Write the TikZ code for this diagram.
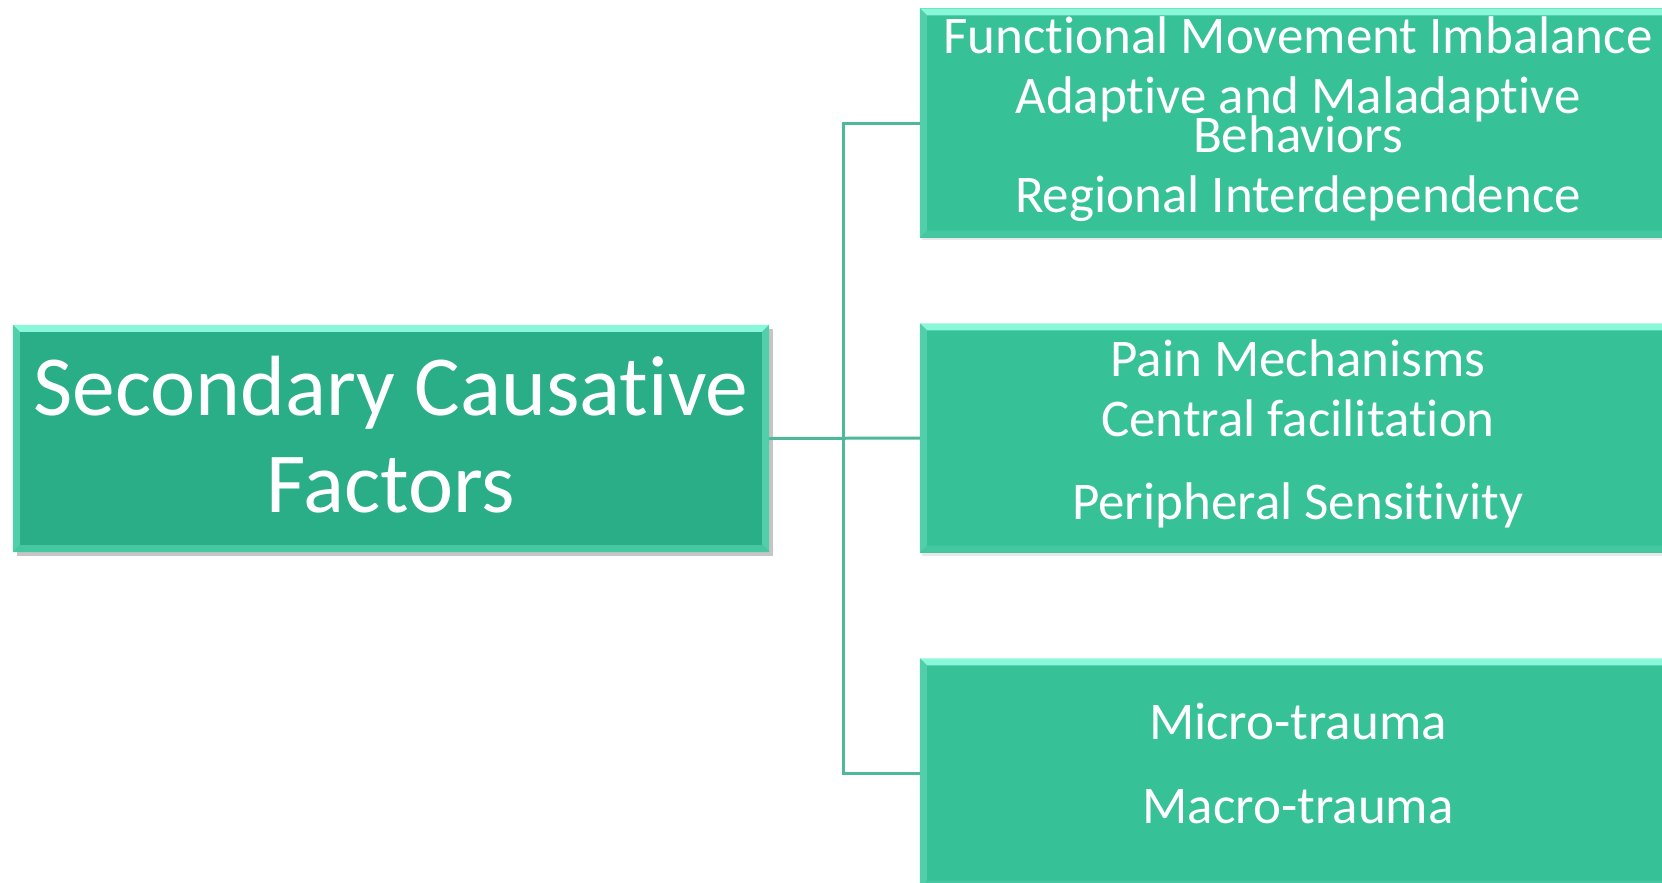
\documentclass[tikz,border=0pt]{standalone}
\usepackage{fontspec}
\setmainfont{Carlito}[Ligatures=NoCommon]
\definecolor{mainfill}{HTML}{2AAE88}
\definecolor{subfill}{HTML}{37C196}
\definecolor{bevtop}{HTML}{8AF7DA}
\definecolor{bevside}{HTML}{52CFAA}
\definecolor{bevbot}{HTML}{45C8A2}
\definecolor{connc}{HTML}{4DB89A}
\tikzset{
  mainbox/.style={fill=mainfill, minimum width=756pt, minimum height=227pt, inner sep=0pt, draw=none},
  subbox/.style={fill=subfill, minimum width=756pt, minimum height=229pt, inner sep=0pt, draw=none},
  conn/.style={draw=connc, line width=3pt},
  bigtext/.style={text=white, anchor=base, font=\fontsize{85.5}{98}\selectfont, inner sep=0pt},
  smalltext/.style={text=white, anchor=base, font=\fontsize{53}{62}\selectfont, inner sep=0pt},
}
\newcommand{\bevel}[1]{%
  \fill[bevtop] (#1.north west) -- (#1.north east) -- ([xshift=-7pt,yshift=-7pt]#1.north east) -- ([xshift=7pt,yshift=-7pt]#1.north west) -- cycle;
  \fill[bevside] (#1.north west) -- ([xshift=7pt,yshift=-7pt]#1.north west) -- ([xshift=7pt,yshift=7pt]#1.south west) -- (#1.south west) -- cycle;
  \fill[bevside] (#1.north east) -- ([xshift=-7pt,yshift=-7pt]#1.north east) -- ([xshift=-7pt,yshift=7pt]#1.south east) -- (#1.south east) -- cycle;
  \fill[bevbot] (#1.south west) -- ([xshift=7pt,yshift=7pt]#1.south west) -- ([xshift=-7pt,yshift=7pt]#1.south east) -- (#1.south east) -- cycle;
}
\begin{document}
\begin{tikzpicture}[x=1pt,y=-1pt]
\useasboundingbox (0,0) rectangle (1662,883);
% shadows
\fill[black!45, opacity=0.5] (17,329) rectangle (773,556);
\fill[black!30, opacity=0.3] (922,11) rectangle (1680,240);
\fill[black!30, opacity=0.3] (922,326) rectangle (1680,556);
% boxes
\node[mainbox] (main) at (391,438.5) {};
\node[subbox] (b1) at (1298,123) {};
\node[subbox] (b2) at (1298,438) {};
\node[subbox] (b3) at (1298,773) {};
\bevel{main}
\bevel{b1}
\bevel{b2}
\bevel{b3}
% connectors
\coordinate (bus) at (843.7,438);
\draw[conn] (main.east) -- (b2.west);
\draw[conn] (b1.west) -- (b1.west -| bus) -- (b3.west -| bus) -- (b3.west);
% texts
\node[bigtext] (t1) at (391,415.5) {Secondary Causative};
\node[bigtext] (t2) at (391,512) {Factors};
\node[smalltext] (s1) at (1298,53) {Functional Movement Imbalance};
\node[smalltext] (s2) at (1298,113) {Adaptive and Maladaptive};
\node[smalltext] (s3) at (1298,152) {Behaviors};
\node[smalltext] (s4) at (1298,212) {Regional Interdependence};
\node[smalltext] (p1) at (1298,376) {Pain Mechanisms};
\node[smalltext] (p2) at (1298,436) {Central facilitation};
\node[smalltext] (p3) at (1298,519) {Peripheral Sensitivity};
\node[smalltext] (m1) at (1298,739) {Micro-trauma};
\node[smalltext] (m2) at (1298,823) {Macro-trauma};
\end{tikzpicture}
\end{document}
